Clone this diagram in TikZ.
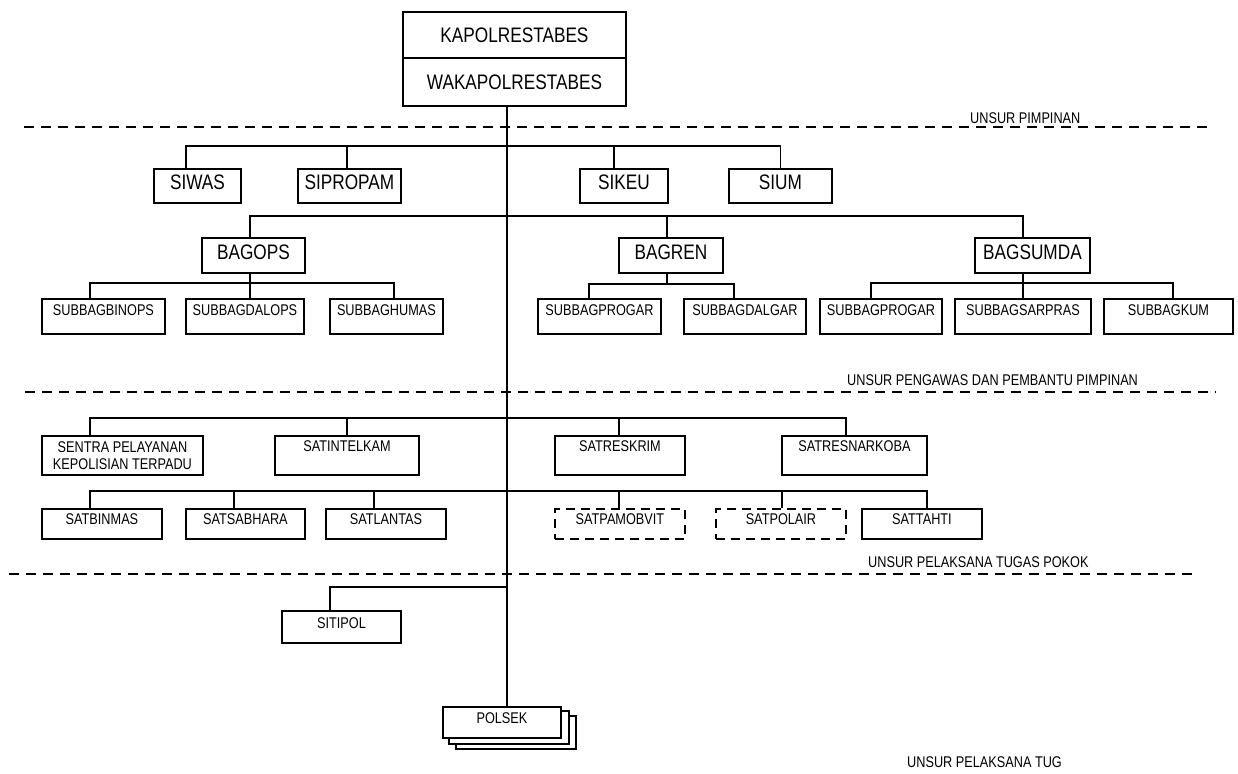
\documentclass[tikz,border=0pt]{standalone}
\usepackage{fontspec}
\setmainfont{Liberation Sans}[FakeStretch=0.82]
\usetikzlibrary{calc,backgrounds}
\begin{document}
\begin{tikzpicture}[x=1pt,y=-1pt,
 box/.style={draw, line width=1.9pt, inner sep=0pt, anchor=north west, fill=white},
 wd/.style={minimum width=#1pt},
 bigf/.style={font=\fontsize{21}{25}\selectfont},
 smf/.style={font=\fontsize{15.5}{17.5}\selectfont},
 toprow/.style={box,bigf,text height=15pt,text depth=0pt},
 sirow/.style={box,bigf,text height=14pt,text depth=6pt,minimum height=34pt},
 bagrow/.style={box,bigf,text height=15pt,text depth=6pt,minimum height=35pt},
 subrow/.style={box,smf,text height=11pt,text depth=13pt,minimum height=35pt},
 satA/.style={box,smf,text height=11pt,text depth=18pt,minimum height=39pt},
 satB/.style={box,smf,text height=11pt,text depth=9pt,minimum height=30pt},
 dbox/.style={dash pattern=on 9pt off 6pt},
 sep/.style={line width=1.9pt, dash pattern=on 10pt off 7pt},
 lbl/.style={smf, inner sep=0pt, anchor=base west},
 wire/.style={line width=1.9pt},
]
\useasboundingbox (0,0) rectangle (1238,773);

% separators
\draw[sep] (24,127) -- (1209,127);
\draw[sep] (25,392) -- (1216,392);
\draw[sep] (9,574) -- (1199,574);

% labels
\node[lbl] (l1) at (970,123) {UNSUR PIMPINAN};
\node[lbl] (l2) at (847,385) {UNSUR PENGAWAS DAN PEMBANTU PIMPINAN};
\node[lbl] (l3) at (868,567) {UNSUR PELAKSANA TUGAS POKOK};
\node[lbl] (l4) at (907,767) {UNSUR PELAKSANA TUG};

% top
\node[toprow, wd=223, minimum height=46pt] (kapol) at (402,11) {KAPOLRESTABES};
\node[toprow, wd=223, minimum height=48pt] (waka) at (402,57) {WAKAPOLRESTABES};

% SI row
\node[sirow, wd=87] (siwas) at (153,168) {SIWAS};
\node[sirow, wd=103] (sipropam) at (297,168) {SIPROPAM};
\node[sirow, wd=88] (sikeu) at (579,168) {SIKEU};
\node[sirow, wd=103] (sium) at (728,168) {SIUM};

% BAG row
\node[bagrow, wd=103] (bagops) at (201,237) {BAGOPS};
\node[bagrow, wd=104] (bagren) at (618,237) {BAGREN};
\node[bagrow, wd=115] (bagsumda) at (974,237) {BAGSUMDA};

% SUBBAG row
\node[subrow, wd=123] (sb1) at (41,298) {SUBBAGBINOPS};
\node[subrow, wd=118] (sb2) at (185,298) {SUBBAGDALOPS};
\node[subrow, wd=113] (sb3) at (329,298) {SUBBAGHUMAS};
\node[subrow, wd=123] (sr1) at (537,298) {SUBBAGPROGAR};
\node[subrow, wd=122] (sr2) at (683,298) {SUBBAGDALGAR};
\node[subrow, wd=122] (ss1) at (819,298) {SUBBAGPROGAR};
\node[subrow, wd=136] (ss2) at (954,298) {SUBBAGSARPRAS};
\node[subrow, wd=129] (ss3) at (1103,298) {SUBBAGKUM};

% SAT row A
\node[box, smf, wd=161, minimum height=39pt, align=center] (sentra) at (41,435) {SENTRA PELAYANAN\\KEPOLISIAN TERPADU};
\node[satA, wd=144] (sintel) at (274,435) {SATINTELKAM};
\node[satA, wd=130] (sresk) at (554,435) {SATRESKRIM};
\node[satA, wd=145] (snark) at (781,435) {SATRESNARKOBA};

% SAT row B
\node[satB, wd=120] (sbin) at (41,508) {SATBINMAS};
\node[satB, wd=119] (ssab) at (185,508) {SATSABHARA};
\node[satB, wd=120] (slan) at (325,508) {SATLANTAS};
\node[satB, dbox, wd=130] (spam) at (554,508) {SATPAMOBVIT};
\node[satB, dbox, wd=130] (spol) at (715,508) {SATPOLAIR};
\node[satB, wd=120] (stah) at (861,508) {SATTAHTI};

% SITIPOL and POLSEK
\node[box, smf, text height=11pt, text depth=7pt, wd=119, minimum height=32pt] (sitipol) at (281,610) {SITIPOL};
\node[box, smf, text height=11pt, text depth=8pt, wd=118, minimum height=31pt] (polsek) at (442,706) {POLSEK};

% spine
\coordinate (top) at ([xshift=-7.5pt]waka.south);
\draw[wire] (top) -- (top |- polsek.north);

\coordinate (jSI) at (top |- 0,146);
\coordinate (jBAG) at (top |- 0,216);
\coordinate (jSA) at (top |- 0,418);
\coordinate (jSB) at (top |- 0,491);
\coordinate (jSIT) at (top |- 0,587);

% SI connectors
\draw[wire] (jSI) -| ([xshift=-11.5pt]siwas.north);
\draw[wire] (jSI) -| ([xshift=-2.5pt]sipropam.north);
\draw[wire] (jSI) -| ([xshift=-10pt]sikeu.north);
\draw[wire] (jSI) -| (sium.north);

% BAG connectors
\draw[wire] (jBAG) -| ([xshift=-3.5pt]bagops.north);
\draw[wire] (jBAG) -| ([xshift=-4pt]bagren.north);
\draw[wire] (jBAG) -| ([xshift=-9.5pt]bagsumda.north);

% BAGOPS subs
\draw[wire] ([xshift=-3.5pt]bagops.south) -- ++(0,9) -| ([xshift=-13.5pt]sb1.north);
\draw[wire] ([xshift=-3.5pt]bagops.south) -- ([xshift=5pt]sb2.north);
\draw[wire] ([xshift=-3.5pt]bagops.south) -- ++(0,9) -| ([xshift=7.5pt]sb3.north);
% BAGREN subs
\draw[wire] ([xshift=-4pt]bagren.south) -- ++(0,10) -| ([xshift=-10.5pt]sr1.north);
\draw[wire] ([xshift=-4pt]bagren.south) -- ++(0,10) -| ([xshift=-11pt]sr2.north);
% BAGSUMDA subs
\draw[wire] ([xshift=-9.5pt]bagsumda.south) -- ++(0,9) -| ([xshift=-10pt]ss1.north);
\draw[wire] ([xshift=-9.5pt]bagsumda.south) -- (ss2.north);
\draw[wire] ([xshift=-9.5pt]bagsumda.south) -- ++(0,9) -| ([xshift=4.5pt]ss3.north);

% SAT A
\draw[wire] (jSA) -| ([xshift=-32.5pt]sentra.north);
\draw[wire] (jSA) -| (sintel.north);
\draw[wire] (jSA) -| ([xshift=-1pt]sresk.north);
\draw[wire] (jSA) -| ([xshift=-8.5pt]snark.north);

% SAT B
\draw[wire] (jSB) -| ([xshift=-12pt]sbin.north);
\draw[wire] (jSB) -| ([xshift=-11.5pt]ssab.north);
\draw[wire] (jSB) -| ([xshift=-12pt]slan.north);
\draw[wire] (jSB) -| ([xshift=-1pt]spam.north);
\draw[wire] (jSB) -| ([xshift=1pt]spol.north);
\draw[wire] (jSB) -| ([xshift=5pt]stah.north);

% SITIPOL
\draw[wire] (jSIT) -| ([xshift=-11.5pt]sitipol.north);

\begin{scope}[on background layer]
\fill[white] (0,0) rectangle (1238,773);
\draw[line width=1.9pt, fill=white] ($(polsek.north west)+(14,10)$) rectangle ($(polsek.south east)+(14,10)$);
\draw[line width=1.9pt, fill=white] ($(polsek.north west)+(7,5)$) rectangle ($(polsek.south east)+(7,5)$);
\end{scope}
\end{tikzpicture}
\end{document}
